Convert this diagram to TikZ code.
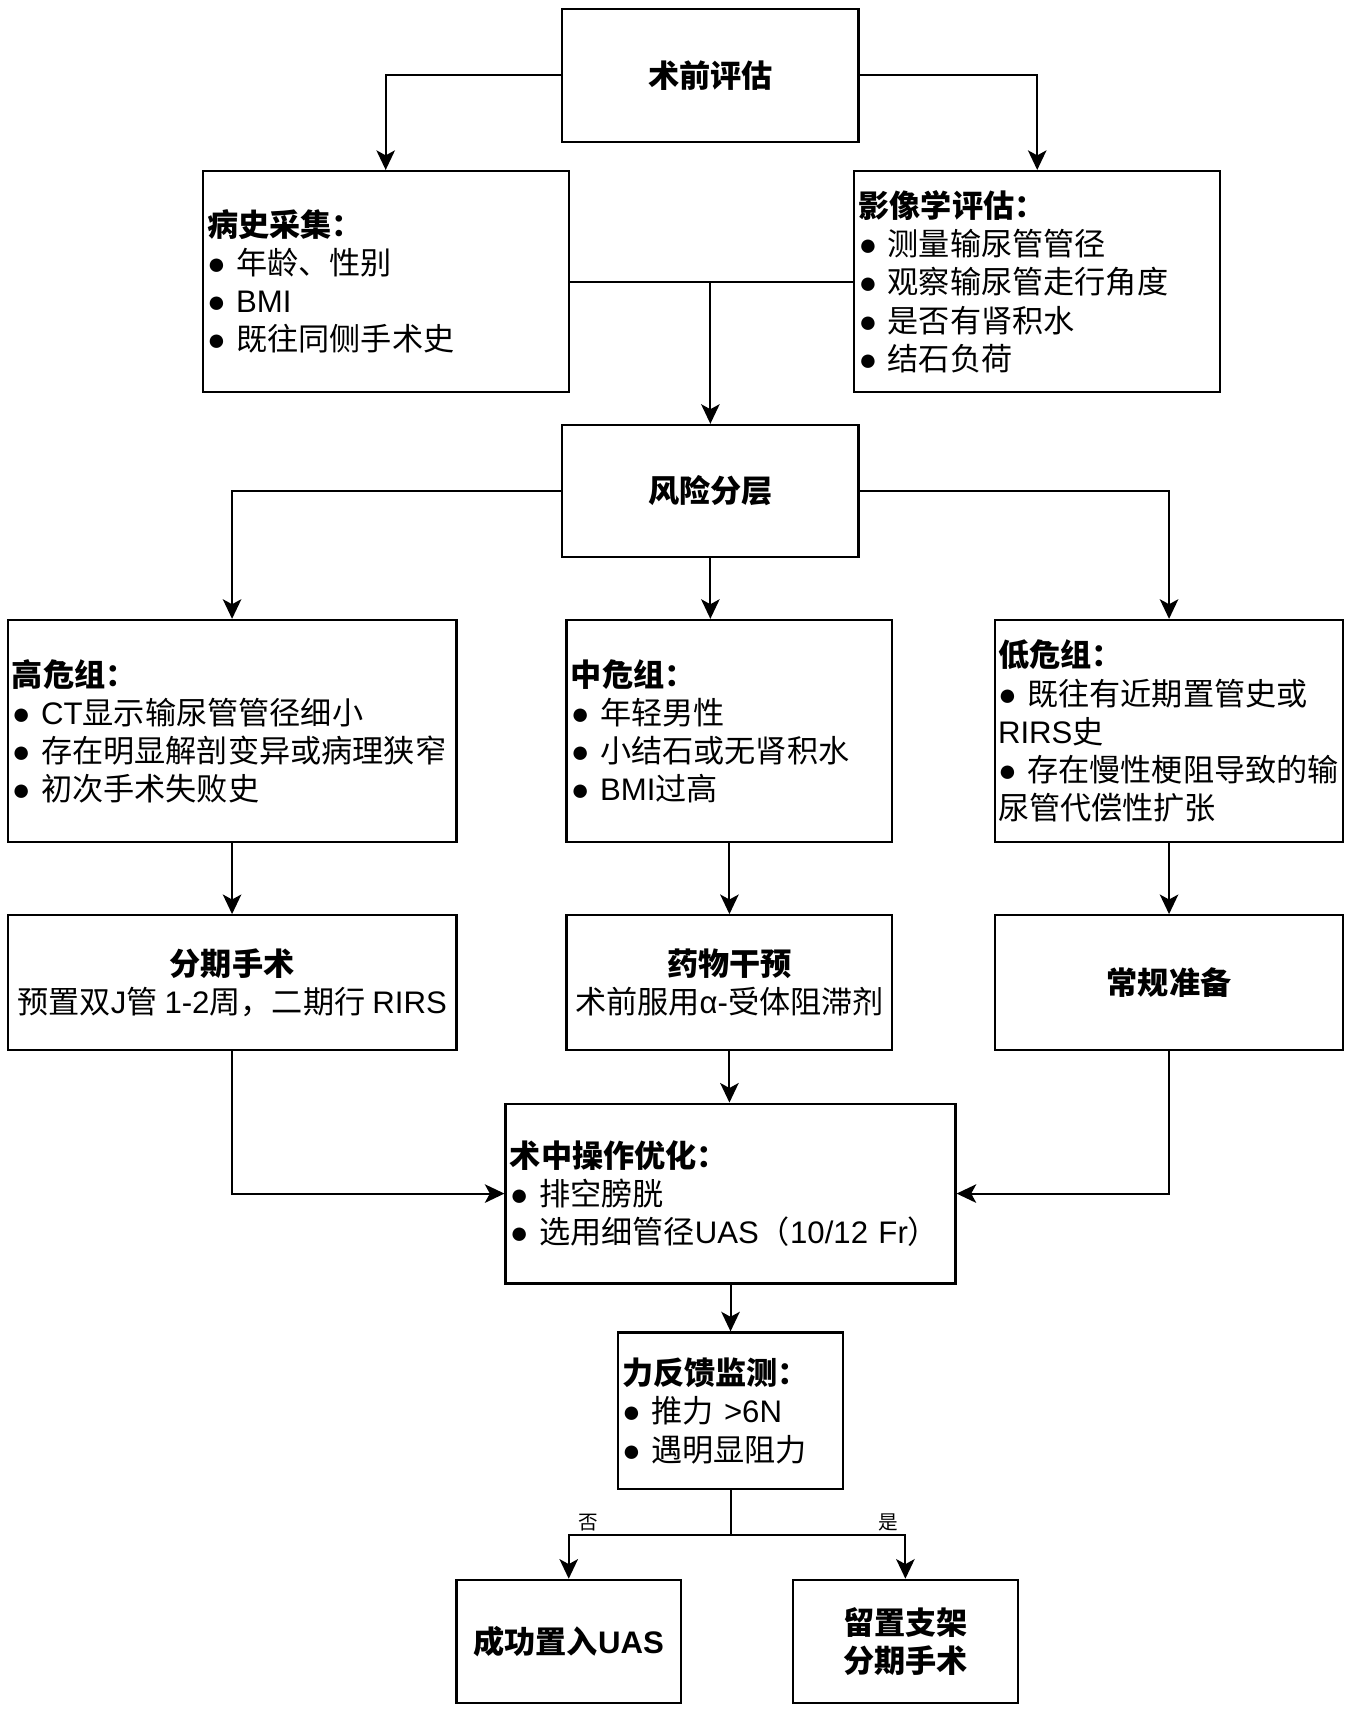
\documentclass[tikz,border=0pt]{standalone}
\usepackage{fontspec}
\setmainfont{Noto Sans CJK SC}
\newfontfamily\lat{Liberation Sans}
\usetikzlibrary{arrows.meta}
\newcommand\bul{{\lat ●\ }}
\newcommand\la[1]{{\lat #1}}
\tikzset{
  box/.style = {draw, line width=1pt, inner sep=2pt,
                font=\fontsize{14.3pt}{17.5pt}\selectfont},
  lbox/.style = {box, align=left, text width=#1},
  cbox/.style = {box, align=center},
  line/.style = {line width=0.9pt},
  conn/.style = {line, -{Stealth[length=9pt, width=8.5pt, inset=2.3pt]}},
  lab/.style = {above, inner sep=1.5pt, font=\fontsize{9pt}{10pt}\selectfont}
}

\begin{document}
\begin{tikzpicture}[x=0.5pt, y=-0.5pt]
  \useasboundingbox (0,0) rectangle (1240,1569.5);
  % assessment
  \node [cbox, minimum width=136pt, minimum height=61pt] (pre) at (652,69) {\bfseries 术前评估};
  \node [lbox=164pt, minimum height=101.5pt] (hist) at (354,258.5)
    {\textbf{病史采集：}\\ \bul 年龄、性别\\ \bul \la{BMI}\\ \bul 既往同侧手术史};
  \node [lbox=164pt, minimum height=101.5pt] (img) at (952,258.5)
    {\textbf{影像学评估：}\\ \bul 测量输尿管管径\\ \bul 观察输尿管走行角度\\ \bul 是否有肾积水\\ \bul 结石负荷};
  \node [cbox, minimum width=136pt, minimum height=60.5pt] (risk) at (652,450.5) {\bfseries 风险分层};
  % risk groups
  \node [lbox=202pt, minimum height=102pt] (high) at (213,671)
    {\textbf{高危组：}\\ \bul \la{CT}显示输尿管管径细小\\ \bul 存在明显解剖变异或病理狭窄\\ \bul 初次手术失败史};
  \node [lbox=145.5pt, minimum height=102pt] (mid) at (669.5,671)
    {\textbf{中危组：}\\ \bul 年轻男性\\ \bul 小结石或无肾积水\\ \bul \la{BMI}过高};
  \node [lbox=157pt, inner xsep=1.5pt, minimum height=102pt] (low) at (1073,671)
    {\textbf{低危组：}\\ \bul 既往有近期置管史或\\ \la{RIRS}史\\ \mbox{\bul 存在慢性梗阻导致的输}\\ 尿管代偿性扩张};
  % measures
  \node [cbox, minimum width=206pt, minimum height=62pt] (stage) at (213,902)
    {\textbf{分期手术}\\ 预置双\la{J}管 \la{1-2}周，二期行 \la{RIRS}};
  \node [cbox, minimum width=149.5pt, minimum height=62pt] (drug) at (669.5,902)
    {\textbf{药物干预}\\ 术前服用\la{α-}受体阻滞剂};
  \node [cbox, minimum width=160pt, minimum height=62pt] (norm) at (1073,902) {\bfseries 常规准备};
  % operation
  \node [lbox=202.5pt, minimum height=82.5pt] (intra) at (670.5,1095.5)
    {\textbf{术中操作优化：}\\ \bul 排空膀胱\\ \bul 选用细管径\la{UAS}（\la{10/12 Fr}）};
  \node [lbox=99.5pt, minimum height=72pt] (force) at (670.5,1295)
    {\textbf{力反馈监测：}\\ \bul 推力 \la{>6N}\\ \bul 遇明显阻力};
  \node [cbox, minimum width=103pt, minimum height=56.5pt] (ok) at (522,1506.5) {\bfseries 成功置入\la{UAS}};
  \node [cbox, minimum width=103pt, minimum height=56.5pt] (stent) at (831,1506.5)
    {\textbf{留置支架}\\ \textbf{分期手术}};
  % connectors
  \draw [conn] (pre.west) -| (hist.north);
  \draw [conn] (pre.east) -| (img.north);
  \draw [line] (hist.east) -- (img.west);
  \draw [conn] (hist.east -| risk.north) -- (risk.north);
  \draw [conn] (risk.west) -| (high.north);
  \draw [conn] (risk.east) -| (low.north);
  \draw [conn] (risk.south) -- (risk.south |- mid.north);
  \foreach \a/\b in {high/stage, mid/drug, low/norm}
    \draw [conn] (\a.south) -- (\b.north);
  \draw [conn] (stage.south) |- (intra.west);
  \draw [conn] (norm.south) |- (intra.east);
  \draw [conn] (drug.south) -- (drug.south |- intra.north);
  \draw [conn] (intra.south) -- (force.north);
  \coordinate (split) at ([yshift=-20.5pt]force.south);
  \draw [line] (force.south) -- (split);
  \draw [conn] (split) -| node [lab, pos=0.44] {否} (ok.north);
  \draw [conn] (split) -| node [lab, pos=0.45] {是} (stent.north);
\end{tikzpicture}
\end{document}
